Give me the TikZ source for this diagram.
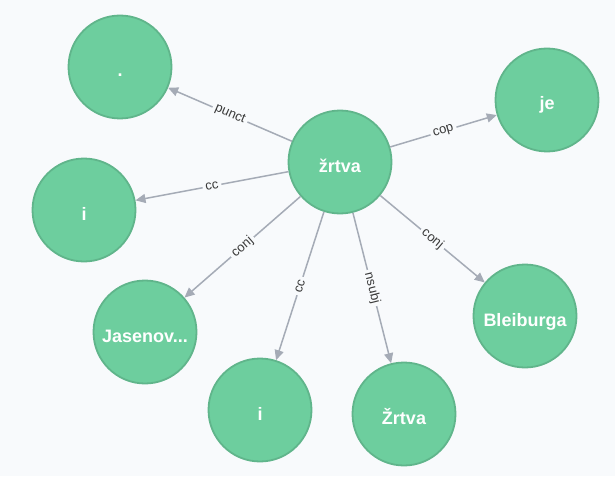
\documentclass[tikz,border=0pt]{standalone}
\usepackage{fontspec}
\setmainfont{Liberation Sans}
\usepackage{xcolor}
\definecolor{canvas}{RGB}{248,250,252}
\definecolor{nodegreen}{HTML}{6DCE9E}
\definecolor{nodeborder}{HTML}{60B58B}
\definecolor{relgray}{HTML}{A5ABB6}
\definecolor{darkgray}{HTML}{3A3A3A}
\usepackage{tikz}
\usetikzlibrary{arrows.meta}

\begin{document}
\begin{tikzpicture}[x = 1pt, y = -1pt, word/.style={
    	circle, minimum size = 103pt, inner sep = 0pt, line width = 1.8pt,
    	draw = nodeborder, fill = nodegreen, text = white,
    	text height = 20pt, text depth = 0pt,
    	font = \fontsize{18}{22}\selectfont\bfseries}, rel/.style={
    	line width = 1.5pt, draw = relgray, -{Triangle[length = 10pt, width = 9pt]}},
    	relname/.style={
    	sloped, midway, fill = canvas, inner sep = 3pt, text = darkgray,
    	font = \fontsize{13}{15}\selectfont}]
    	\fill [canvas] (0,0) rectangle (615,476);
    	\node (zrtva) [word] at (340,162) {žrtva};
    	\node (dot) [word] at (120,67) {.};
    	\node (je) [word] at (547,100) {je};
    	\node (ileft) [word] at (84,210) {i};
    	\node (jas) [word] at (145,332) {Jasenov...};
    	\node (ibottom) [word] at (260,410) {i};
    	\node (Zrtva) [word] at (404,414) {Žrtva};
    	\node (bleib) [word] at (525,316) {Bleiburga};
    	\draw [rel] (zrtva) -- node [relname] {punct} (dot);
    	\draw [rel] (zrtva) -- node [relname] {cop} (je);
    	\draw [rel] (zrtva) -- node [relname] {cc} (ileft);
    	\draw [rel] (zrtva) -- node [relname] {conj} (jas);
    	\draw [rel] (zrtva) -- node [relname] {cc} (ibottom);
    	\draw [rel] (zrtva) -- node [relname] {nsubj} (Zrtva);
    	\draw [rel] (zrtva) -- node [relname] {conj} (bleib);
	\end{tikzpicture}
\end{document}
